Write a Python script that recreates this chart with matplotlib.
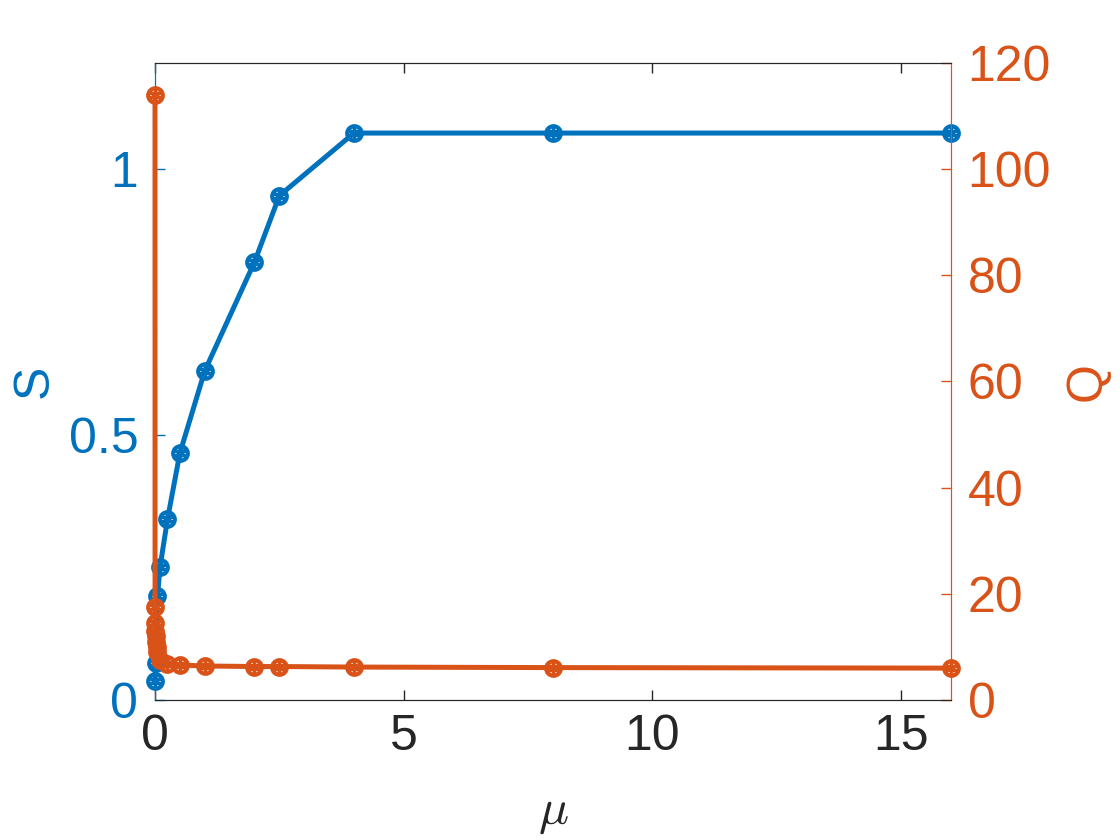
import matplotlib
matplotlib.use("Agg")
import matplotlib.pyplot as plt

plt.rcParams['font.family'] = ['Liberation Sans', 'DejaVu Sans']
plt.rcParams['mathtext.fontset'] = 'cm'

# data
mu_S = [0, 0.01, 0.05, 0.1, 0.25, 0.5, 1, 2, 2.5, 4, 8, 16]
S = [0.035, 0.07, 0.195, 0.25, 0.34, 0.465, 0.62, 0.825, 0.95, 1.068, 1.068, 1.068]

mu_Q = [0, 0.001, 0.002, 0.005, 0.01, 0.02, 0.03, 0.05, 0.1, 0.25, 0.5, 1, 2, 2.5, 4, 8, 16]
Q = [114, 17.5, 14.5, 13, 12, 11, 10, 9, 7.5, 6.8, 6.6, 6.4, 6.3, 6.3, 6.2, 6.1, 6.0]

x_ticks = [0, 5, 10, 15]
s_ticks = [0, 0.5, 1]
q_ticks = [0, 20, 40, 60, 80, 100, 120]

blue = "#0072BD"
orange = "#D95319"
fs = 36

fig = plt.figure(figsize=(11.2, 8.4), dpi=100)
ax = fig.add_axes([0.1384, 0.1667, 0.849 - 0.1384, 0.925 - 0.1667])
ax2 = ax.twinx()


def draw(a, x, y, c):
    a.plot(x, y, "-", color=c, lw=3.6, clip_on=False, zorder=3)
    a.plot(x, y, "o", ms=10.5, mfc="none", mec=c, mew=3, clip_on=False, zorder=4)
    a.plot(x, y, marker=(6, 2, 0), ls="none", ms=11, mec=c, mew=2.4, clip_on=False, zorder=4)


draw(ax, mu_S, S, blue)
draw(ax2, mu_Q, Q, orange)

ax.set_xlim(0, 16)
ax.set_ylim(0, 1.2)
ax2.set_ylim(0, 120)
ax.set_xticks(x_ticks)
ax.set_yticks(s_ticks)
ax.set_yticklabels(["0", "0.5", "1"])
ax2.set_yticks(q_ticks)

ax.tick_params(axis="x", direction="in", top=True, length=7, width=1, colors="#262626",
               labelsize=fs, pad=10)
ax.tick_params(axis="y", direction="in", length=7, width=1, colors=blue, labelsize=fs, pad=12)
ax2.tick_params(axis="y", direction="in", length=7, width=1, colors=orange, labelsize=fs, pad=12)

for a in (ax, ax2):
    a.spines["top"].set_color("#262626")
    a.spines["bottom"].set_color("#262626")
    a.spines["left"].set_color(blue)
    a.spines["right"].set_color(orange)

ax.set_ylabel("S", color=blue, fontsize=fs, labelpad=8)
ax2.set_ylabel("Q", color=orange, fontsize=fs, labelpad=10)
ax.set_xlabel(r"$\mu$", color="#262626", fontsize=fs, labelpad=22)

fig.savefig("out.png", dpi=100)
